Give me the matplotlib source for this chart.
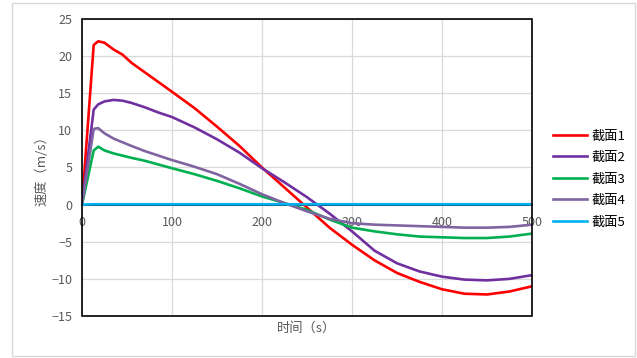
import numpy as np
import matplotlib
matplotlib.use("Agg")
import matplotlib.pyplot as plt
from matplotlib.patches import Rectangle

plt.rcParams['font.family'] = ['Noto Sans CJK SC', 'DejaVu Sans']

# time (s)
t = [0, 13, 18, 25, 35, 45, 55, 70, 85, 100, 125, 150, 175, 200, 225,
     250, 275, 300, 325, 350, 375, 400, 425, 450, 475, 500]

# speed (m/s) for each section
v1 = [0, 21.5, 22.0, 21.8, 20.9, 20.2, 19.1, 17.8, 16.5, 15.2, 13.0, 10.5, 7.9, 5.0, 2.3,
      -0.4, -3.1, -5.4, -7.5, -9.2, -10.4, -11.4, -12.0, -12.1, -11.7, -11.0]
v2 = [0, 12.8, 13.5, 13.9, 14.1, 14.0, 13.7, 13.1, 12.4, 11.8, 10.4, 8.8, 7.0, 4.9, 3.0,
      1.0, -1.2, -3.6, -6.2, -7.9, -9.0, -9.7, -10.1, -10.2, -10.0, -9.5]
v3 = [0, 7.3, 7.8, 7.3, 6.9, 6.6, 6.3, 5.9, 5.4, 4.9, 4.1, 3.2, 2.2, 1.1, 0.2,
      -0.7, -2.0, -3.1, -3.6, -4.0, -4.3, -4.4, -4.5, -4.5, -4.3, -3.9]
v4 = [0, 10.2, 10.3, 9.6, 8.9, 8.4, 7.9, 7.2, 6.6, 6.0, 5.1, 4.1, 2.8, 1.4, 0.2,
      -0.9, -1.9, -2.5, -2.7, -2.8, -2.9, -3.0, -3.1, -3.1, -3.0, -2.7]
v5 = [0, 0.05, 0.05, 0.05, 0.05, 0.05, 0.05, 0.05, 0.05, 0.05, 0.05, 0.05, 0.05, 0.05, 0.05,
      0.05, 0.05, 0.05, 0.05, 0.05, 0.05, 0.05, 0.05, 0.05, 0.05, 0.05]

names = ['截面1', '截面2', '截面3', '截面4', '截面5']
colors = ['#FF0000', '#7030A0', '#00B050', '#8064A2', '#00B0F0']
series = [v1, v2, v3, v4, v5]

W, H = 637, 358
fig = plt.figure(figsize=(W / 100, H / 100), dpi=100)
ax = fig.add_axes([82 / W, 1 - 316 / H, 450 / W, 297 / H])

for v, c, n in zip(series, colors, names):
    ax.plot(t, v, color=c, lw=1.9, label=n, zorder=3)

ax.set_xlim(0, 500)
ax.set_ylim(-15, 25)
ax.set_xticks(range(0, 501, 100))
ax.set_yticks(range(-15, 26, 5))
ax.grid(True, color='#D9D9D9', lw=0.9)
ax.set_axisbelow(True)

# x axis crosses at 0, frame drawn separately
for s in ['top', 'right', 'left']:
    ax.spines[s].set_visible(False)
ax.spines['bottom'].set_position(('data', 0))
ax.spines['bottom'].set_color('black')
ax.spines['bottom'].set_linewidth(1.2)
ax.add_patch(Rectangle((0, 0), 1, 1, transform=ax.transAxes, fill=False,
                       edgecolor='black', lw=1.2, zorder=5, clip_on=False))
ax.tick_params(length=0, labelsize=9, labelcolor='#595959')
ax.tick_params(axis='x', pad=8)
ax.tick_params(axis='y', pad=7)

ax.set_ylabel('速度（m/s）', fontsize=9.5, color='#595959', labelpad=2)
fig.text(307 / W, 1 - 328 / H, '时间（s）', fontsize=9.5, color='#595959',
         ha='center', va='center')

fig.legend(loc='center left', bbox_to_anchor=(553 / W, 1 - 179 / H), frameon=False,
           fontsize=9.5, handlelength=2.6, handletextpad=0.3, labelspacing=0.65,
           borderpad=0, borderaxespad=0)

# outer chart border
fig.add_artist(Rectangle((12 / W, 1 - 356 / H), 623 / W, 353 / H, transform=fig.transFigure,
                         fill=False, edgecolor='#D9D9D9', lw=1))

fig.savefig('out.png', dpi=100)
